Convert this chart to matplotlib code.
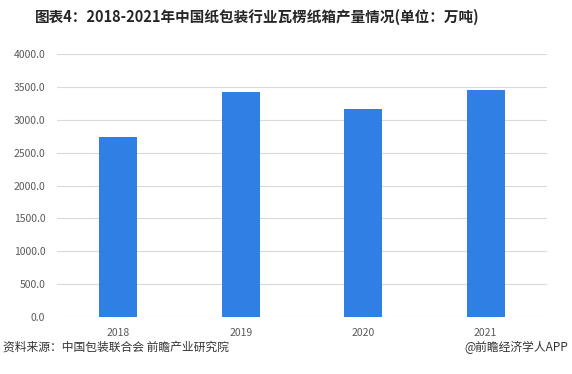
import matplotlib.pyplot as plt
import numpy as np

plt.rcParams['font.family'] = ['Noto Sans CJK SC', 'DejaVu Sans']

years = ["2018", "2019", "2020", "2021"]
output = [2735.0, 3420.0, 3165.0, 3445.0]
yticks = [0, 500, 1000, 1500, 2000, 2500, 3000, 3500, 4000]

title = "图表4：2018-2021年中国纸包装行业瓦楞纸箱产量情况(单位：万吨)"
source = "资料来源：中国包装联合会 前瞻产业研究院"
brand = "@前瞻经济学人APP"

fig = plt.figure(figsize=(5.72, 3.74), dpi=100)
ax = fig.add_axes([0.0997, 0.152, 0.8563, 0.704])

x = np.arange(len(years))
ax.bar(x, output, width=0.31, color="#2F7FE4", zorder=3)

ax.set_xlim(-0.5, len(years) - 0.5)
ax.set_ylim(0, 4000)
ax.set_yticks(yticks)
ax.set_yticklabels([f"{v:.1f}" for v in yticks])
ax.set_xticks(x)
ax.set_xticklabels(years)
ax.grid(axis="y", color="#d9d9d9", linewidth=0.8, zorder=0)
for s in ax.spines.values():
    s.set_visible(False)
ax.tick_params(axis="both", length=0, labelsize=7.5, colors="#595959")
ax.tick_params(axis="y", pad=8.5)
ax.tick_params(axis="x", pad=8)

fig.text(0.45, 0.955, title, ha="center", va="center", fontsize=10.5,
         fontweight="bold", color="#262626")
fig.text(0.005, 0.072, source, ha="left", va="center", fontsize=8.5, color="#333333")
fig.text(0.993, 0.072, brand, ha="right", va="center", fontsize=8.5, color="#333333")

fig.savefig("out.png", dpi=100)
